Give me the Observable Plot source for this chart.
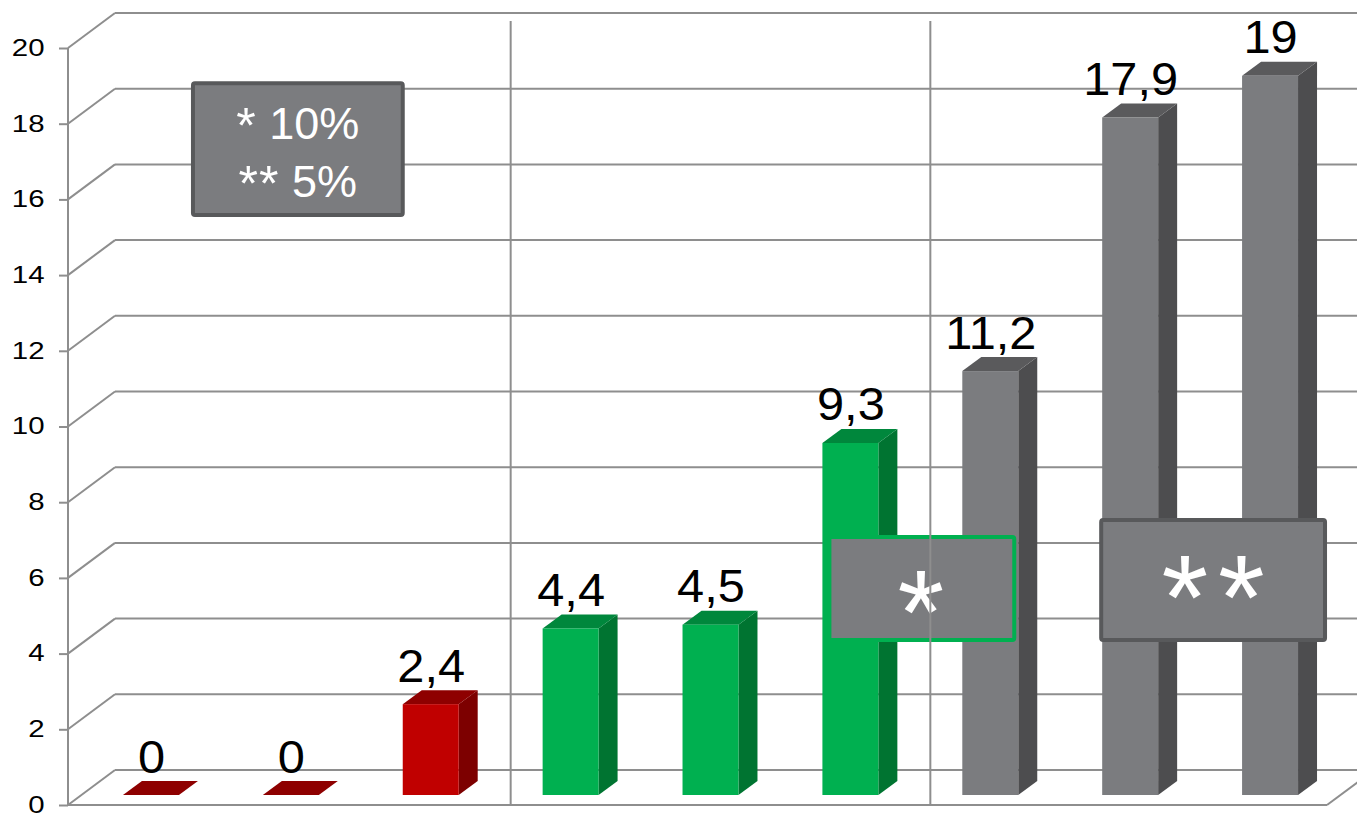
<!DOCTYPE html>
<html><head><meta charset="utf-8">
<script src="https://cdn.jsdelivr.net/npm/d3@7"></script>
<script src="https://cdn.jsdelivr.net/npm/@observablehq/plot@0.6"></script>
<style>html,body{margin:0;padding:0;background:#fff;} svg{display:block;}</style>
</head><body><div id="chart"></div>
<script>
const categories = ["c1","c2","c3","c4","c5","c6","c7","c8","c9"];
const values = [0, 0, 2.4, 4.4, 4.5, 9.3, 11.2, 17.9, 19];
const groups = ["red","red","red","green","green","green","gray","gray","gray"];
const valueLabels = ["0","0","2,4","4,4","4,5","9,3","11,2","17,9","19"];
const yTicks = [0,2,4,6,8,10,12,14,16,18,20];
const legendLines = [["*", "10%"], ["**", "5%"]];
const markers = ["*", "**"];

const palette = {
  red: {front:"#c00000", side:"#7d0000", top:"#8e0000"},
  green: {front:"#00b050", side:"#007431", top:"#00873c"},
  gray: {front:"#7b7c7f", side:"#4d4d4f", top:"#5a5a5c"}
};
const rows = categories.map((c,i)=>({cat:c, value:values[i], group:groups[i], label:valueLabels[i]}));

const DX = 19, DY = 14;           // bar depth
const FRONT = [-13, 10], BACK = [34, -25];
const FONT = "'Liberation Sans', Arial, sans-serif";
const GRID = "#8e8e8e";

function line(g, x1, y1, x2, y2, stroke, w) {
  g.append("line").attr("x1", x1).attr("y1", y1).attr("x2", x2).attr("y2", y2)
   .attr("stroke", stroke).attr("stroke-width", w);
}
function poly(g, pts, fill) {
  g.append("polygon").attr("points", pts.map(p => p.join(",")).join(" ")).attr("fill", fill);
}

const gridMark = (index, scales, vals, dim) => {
  const {y} = scales;
  const g = d3.create("svg:g");
  const x0 = dim.marginLeft, xr = dim.width - dim.marginRight;
  for (const t of yTicks) {
    line(g, x0 + BACK[0], y(t) + BACK[1], dim.width + 5, y(t) + BACK[1], GRID, 2);
    line(g, x0 + FRONT[0], y(t) + FRONT[1], x0 + BACK[0], y(t) + BACK[1], GRID, 2);
  }
  line(g, x0 + FRONT[0], y(0) + FRONT[1], x0 + FRONT[0], y(20) + FRONT[1], GRID, 2);
  line(g, x0 + FRONT[0], y(0) + FRONT[1], xr + FRONT[0], y(0) + FRONT[1], GRID, 2);
  line(g, xr + FRONT[0], y(0) + FRONT[1], xr + BACK[0], y(0) + BACK[1], GRID, 2);
  return g.node();
};

const depthMark = (index, scales) => {
  const {x, y} = scales;
  const bw = x.bandwidth();
  const g = d3.create("svg:g");
  for (const r of rows) {
    const xl = x(r.cat), xrr = xl + bw, yt = y(r.value), yb = y(0);
    const c = palette[r.group];
    if (r.value > 0) poly(g, [[xrr, yb], [xrr + DX, yb - DY], [xrr + DX, yt - DY], [xrr, yt]], c.side);
    poly(g, [[xl, yt], [xl + DX, yt - DY], [xrr + DX, yt - DY], [xrr, yt]], r.value > 0 ? c.top : "#8e0000");
  }
  return g.node();
};

function box(g, x1, y1, x2, y2, stroke) {
  g.append("rect").attr("x", x1 + 2).attr("y", y1 + 2).attr("width", x2 - x1 - 4).attr("height", y2 - y1 - 4)
   .attr("rx", 2).attr("fill", "#7b7c7f").attr("stroke", stroke).attr("stroke-width", 4);
}
function legendText(g, tx, ty, parts) {
  const t = g.append("text").attr("transform", `translate(${tx},${ty})`).attr("text-anchor", "middle")
   .attr("fill", "#fff").attr("font-size", 45).attr("font-family", FONT);
  t.append("tspan").attr("font-size", 50).attr("dy", 4).attr("letter-spacing", 1).text(parts[0]);
  t.append("tspan").attr("dy", -4).text(" " + parts[1]);
}
function starText(g, tx, ty, text, size, spacing) {
  g.append("text").attr("transform", `translate(${tx},${ty})`).attr("text-anchor", "middle")
   .attr("fill", "#fff").attr("font-size", size).attr("font-family", FONT)
   .attr("letter-spacing", spacing).text(text);
}

const annotationMark = (index, scales) => {
  const {x, y} = scales;
  const bw = x.bandwidth();
  const g = d3.create("svg:g");
  // legend box
  const lx1 = x(categories[0]) + 68, lx2 = x(categories[2]) + 2;
  const ly1 = y(18.86), ly2 = y(15.27);
  box(g, lx1, ly1, lx2, ly2, "#58595b");
  legendText(g, (lx1 + lx2) / 2, ly1 + 58, legendLines[0]);
  legendText(g, (lx1 + lx2) / 2, ly1 + 116, legendLines[1]);
  // * box
  const ax1 = x(categories[5]) + 5, ax2 = x(categories[6]) + bw - 2;
  box(g, ax1, y(6.87), ax2, y(4.04), "#00b050");
  starText(g, (ax1 + ax2) / 2 - 1, y(4.04) + 12, markers[0], 120, 0);
  // ** box
  const bx1 = x(categories[7]) - 3, bx2 = x(categories[8]) + bw + 29;
  box(g, bx1, y(7.32), bx2, y(4.04), "#58595b");
  starText(g, (bx1 + bx2) / 2 + 5, y(4.04) - 3, markers[1], 120, 10);
  return g.node();
};

const separatorMark = (index, scales) => {
  const {x, y} = scales;
  const bw = x.bandwidth();
  const g = d3.create("svg:g");
  for (const i of [2, 5]) {
    const xm = (x(categories[i]) + bw + x(categories[i + 1])) / 2 + 10;
    line(g, xm, y(20) - 17, xm, y(0) + FRONT[1], GRID, 2);
  }
  return g.node();
};

const chart = Plot.plot({
  width: 1357, height: 817,
  marginLeft: 81, marginRight: 17, marginTop: 38, marginBottom: 22,
  style: {fontFamily: FONT, background: "#fff"},
  x: {domain: categories, paddingInner: 0.6, paddingOuter: 0.3, round: false, axis: null},
  y: {domain: [0, 20], axis: null},
  color: {type: "identity"},
  marks: [
    gridMark,
    Plot.axisY({ticks: yTicks, tickSize: 9, tickPadding: 15, dx: FRONT[0], dy: FRONT[1],
      fontSize: 23, fill: "#000", stroke: GRID, strokeWidth: 2, label: null, tickFormat: d => String(d)}),
    depthMark,
    Plot.barY(rows, {x: "cat", y: "value", fill: d => palette[d.group].front}),
    Plot.text(rows, {x: "cat", y: "value", text: "label", dy: -23, lineAnchor: "bottom", fontSize: 46, fill: "#000"}),
    annotationMark,
    separatorMark
  ]
});
// horizontal widening of the glyphs, as in the reference
chart.querySelectorAll('g[aria-label="y-axis tick label"] text').forEach(t => {
  t.setAttribute("transform", (t.getAttribute("transform") || "") + " scale(1.28,1)");
});
chart.querySelectorAll('g[aria-label="text"] text').forEach(t => {
  t.setAttribute("transform", (t.getAttribute("transform") || "") + " scale(1.06,1)");
});
document.getElementById("chart").appendChild(chart);
</script>
</body></html>
